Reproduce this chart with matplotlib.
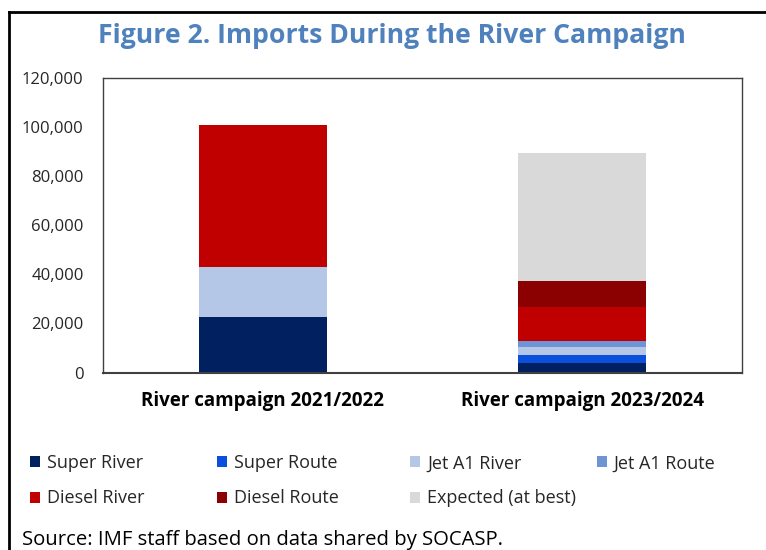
import numpy as np
import matplotlib.pyplot as plt
from matplotlib.lines import Line2D

plt.rcParams['font.family'] = ['Open Sans', 'DejaVu Sans']

campaigns = ['River campaign 2021/2022', 'River campaign 2023/2024']
series = ['Super River', 'Super Route', 'Jet A1 River', 'Jet A1 Route',
          'Diesel River', 'Diesel Route', 'Expected (at best)']
super_river = [22600, 3700]
super_route = [0, 3400]
jet_river = [20400, 3100]
jet_route = [0, 2600]
diesel_river = [57700, 14000]
diesel_route = [0, 10400]
expected = [0, 52200]
yticks = [0, 20000, 40000, 60000, 80000, 100000, 120000]

colors = ['#002060', '#0A50DC', '#B4C7E7', '#6F94D3',
          '#C00000', '#8B0000', '#D9D9D9']

fig = plt.figure(figsize=(7.66, 5.5), dpi=100)
ax = fig.add_axes([0.1345, 0.3227, 0.8342, 0.5363])

x = np.arange(len(campaigns))
bottom = np.zeros(len(campaigns))
bars = []
for name, vals, c in zip(series, [super_river, super_route, jet_river, jet_route,
                                   diesel_river, diesel_route, expected], colors):
    b = ax.bar(x, vals, width=0.4, bottom=bottom, color=c, label=name)
    bars.append(b)
    bottom += np.array(vals)

ax.set_xlim(-0.5, 1.5)
ax.set_ylim(0, 120000)
ax.set_yticks(yticks)
ax.set_yticklabels([f'{v:,}' for v in yticks], fontsize=12, color='#262626')
ax.set_xticks(x)
ax.set_xticklabels(campaigns, fontsize=13.5, fontweight='bold', color='#000000')
ax.tick_params(length=0, pad=14)
ax.tick_params(axis='x', pad=13)
for s in ax.spines.values():
    s.set_color('#404040')
    s.set_linewidth(1.0)
ax.spines['bottom'].set_linewidth(1.5)

fig.text(0.512, 0.934, 'Figure 2. Imports During the River Campaign',
         ha='center', va='center', fontsize=19.2, fontweight='bold', color='#4F81BD')

# legend laid out in four equal-width columns
col_x = [0.039, 0.283, 0.535, 0.779]
order = [[0, 4], [1, 5], [2, 6], [3]]
for cx, idx in zip(col_x, order):
    leg = fig.legend([bars[i] for i in idx], [series[i] for i in idx],
                     loc='upper left', bbox_to_anchor=(cx, 0.174), frameon=False,
                     fontsize=13, handlelength=0.55, handleheight=0.55,
                     handletextpad=0.4, labelspacing=0.95, borderpad=0,
                     borderaxespad=0, labelcolor='#262626')

fig.text(0.029, 0.018, 'Source: IMF staff based on data shared by SOCASP.',
         fontsize=14.6, color='#000000', va='center')

# outer frame: left and top edges
fig.add_artist(Line2D([0.0115, 0.0115], [0, 0.9785], transform=fig.transFigure,
                      color='black', linewidth=2))
fig.add_artist(Line2D([0.0115, 1], [0.9785, 0.9785], transform=fig.transFigure,
                      color='black', linewidth=2))

fig.savefig('out.png', dpi=100)
